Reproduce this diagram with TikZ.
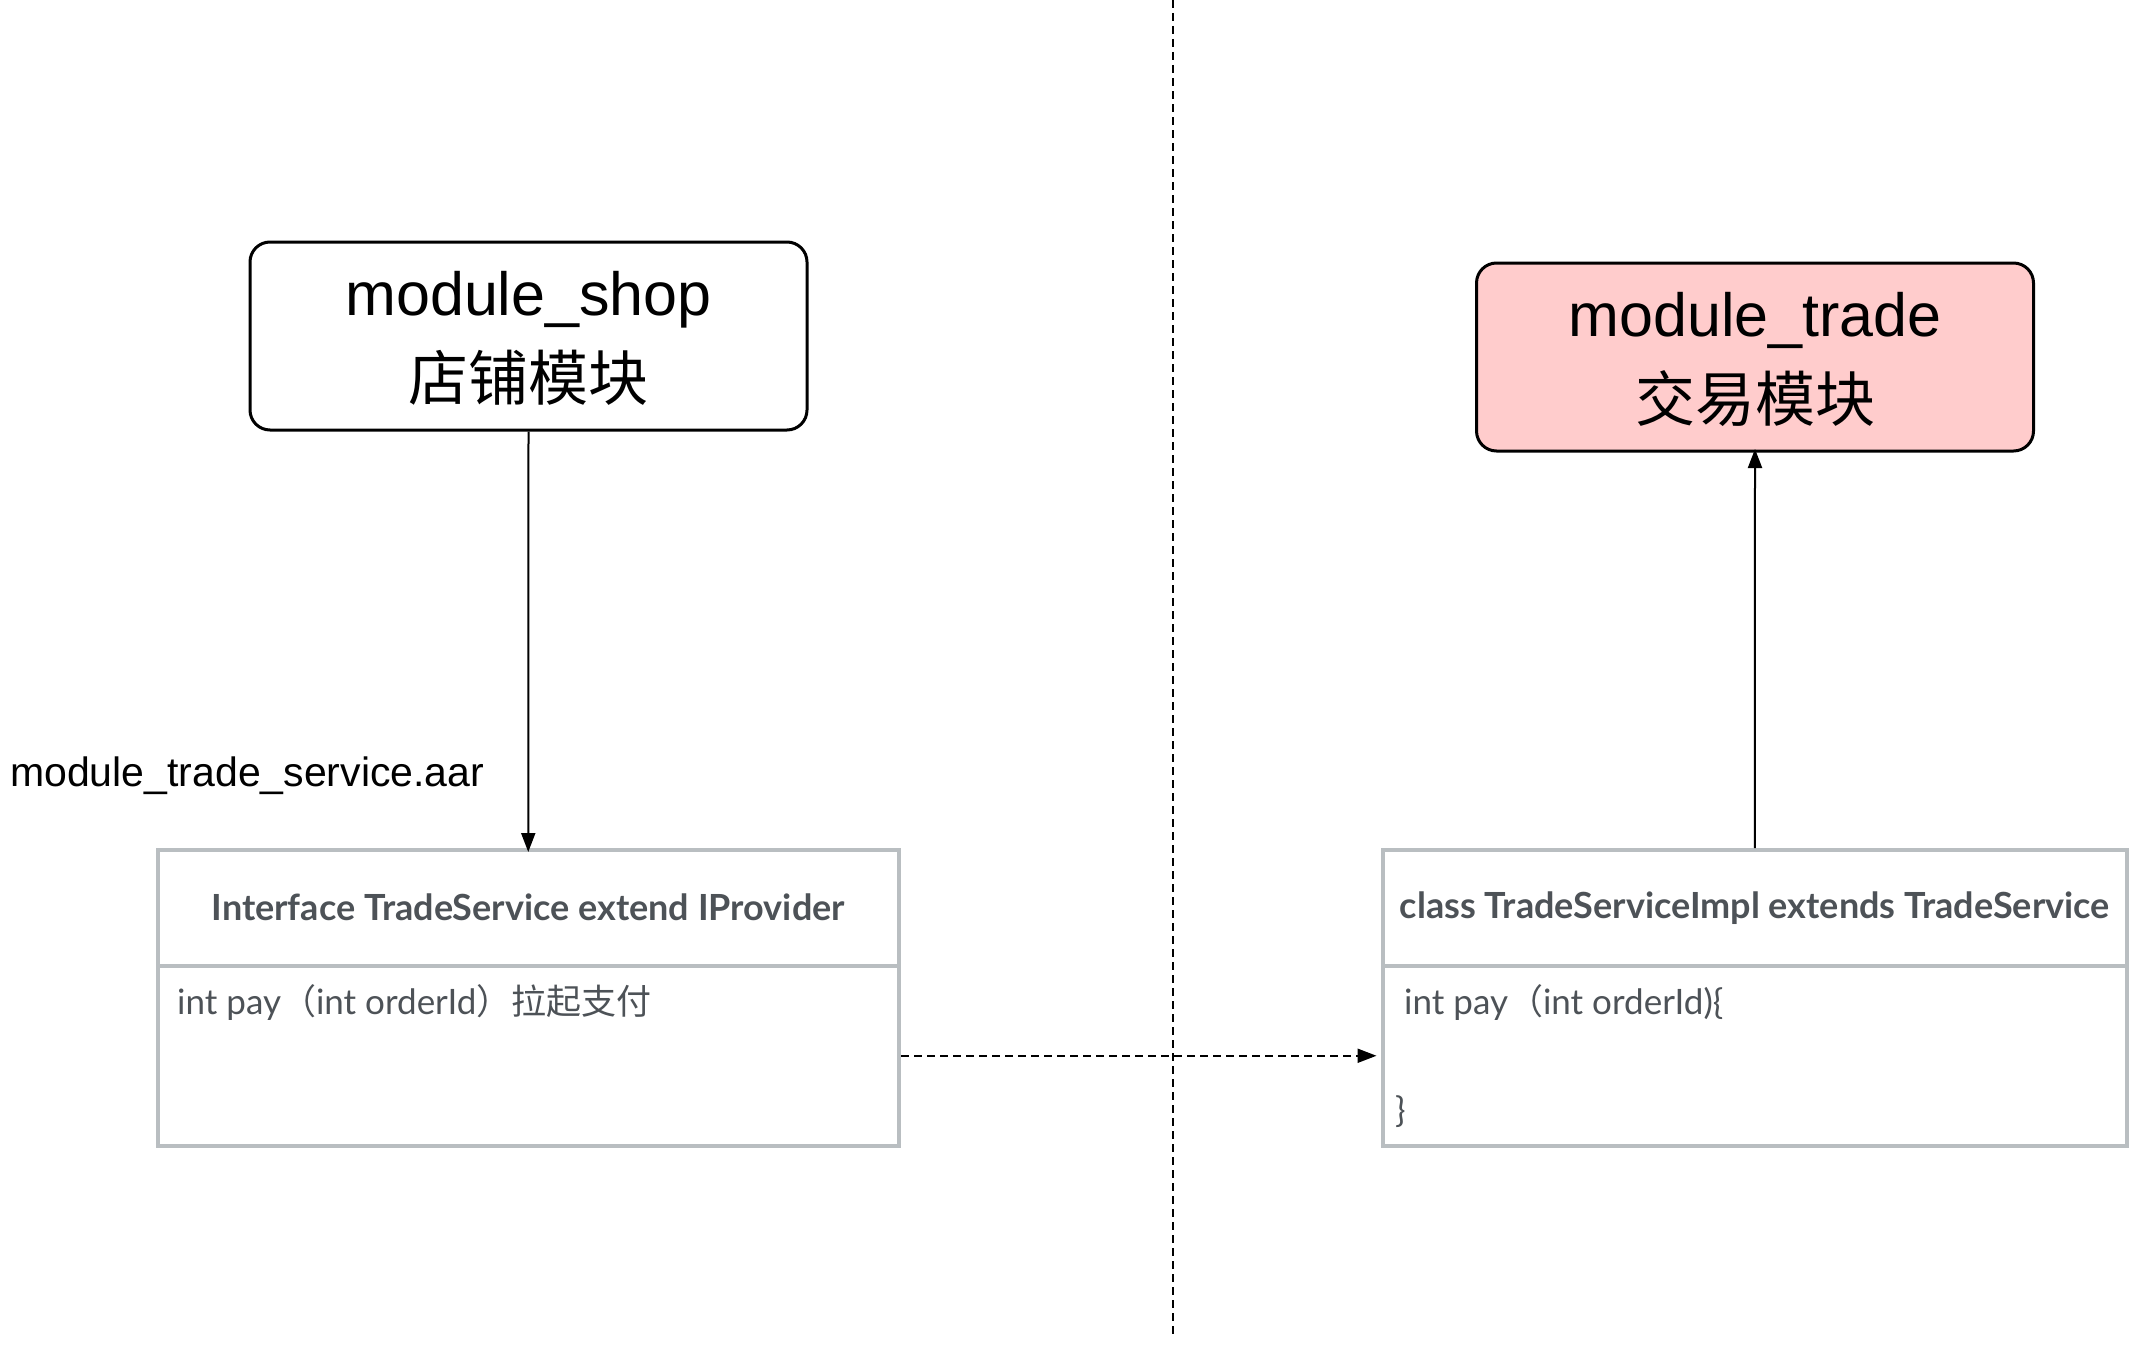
\documentclass[tikz,border=0pt]{standalone}
\usepackage{fontspec}
\setmainfont{Liberation Sans}
\newfontfamily\cjk{Noto Sans CJK SC}
\newfontfamily\lato{Lato}
\usetikzlibrary{arrows.meta}
\definecolor{umlgray}{HTML}{B9BEC1}
\definecolor{umltext}{HTML}{4D5257}
\definecolor{pinkfill}{HTML}{FFCCCC}
\tikzset{
  modbox/.style={draw=black, line width=3pt, rounded corners=20pt, align=center,
    minimum width=557pt, minimum height=188pt, inner sep=0pt,
    font=\fontsize{61}{85}\selectfont},
  umlpart/.style={draw=umlgray, line width=4pt, minimum width=741.5pt, inner sep=0pt},
  umltitle/.style={text=umltext, font=\lato\bfseries\fontsize{36}{42}\selectfont},
  umlbody/.style={text=umltext, font=\lato\fontsize{35}{42}\selectfont, anchor=base west, inner sep=0pt},
  conn/.style={line width=2pt, -{Triangle[length=19pt,width=14pt]}},
}
\begin{document}
\begin{tikzpicture}[x=1pt,y=-1pt]
\useasboundingbox (0,0) rectangle (2130,1354);
% vertical separator
\coordinate (septop) at (1173,0);
\coordinate (sepbot) at (1173,1334);
\draw[line width=2pt, dash pattern=on 8pt off 5pt] (septop) -- (sepbot);
% module boxes
\node[modbox] (shop) at (528.5,336)
  {\raisebox{-5pt}[\height][\depth]{\begin{tabular}{@{}c@{}}module\_shop\\{\cjk\fontsize{60}{85}\selectfont 店铺模块}\end{tabular}}};
\node[modbox, fill=pinkfill] (trade) at (1755,357)
  {\raisebox{-5pt}[\height][\depth]{\begin{tabular}{@{}c@{}}module\_trade\\{\cjk\fontsize{60}{85}\selectfont 交易模块}\end{tabular}}};
% label
\node[anchor=base west, inner sep=0pt, font=\fontsize{41}{49}\selectfont] (aar) at (10,786) {module\_trade\_service.aar};
% interface box
\node[umlpart, minimum height=115.5pt] (ifacehead) at (528.25,907.75) {};
\node[umlpart, minimum height=180.5pt] (ifacebody) at (528.25,1055.75) {};
\node[umltitle] (ifacetitle) at (ifacehead.center) {Interface TradeService extend IProvider};
\node[umlbody] (ifacemethod) at (177,1014) {int pay{\cjk（}int orderId{\cjk）拉起支付}};
% impl box
\node[umlpart, minimum width=744.5pt, minimum height=115.5pt] (implhead) at (1754.75,907.75) {};
\node[umlpart, minimum width=744.5pt, minimum height=180.5pt] (implbody) at (1754.75,1055.75) {};
\node[umltitle] (impltitle) at (implhead.center) {class TradeServiceImpl extends TradeService};
\node[umlbody] (implmethod) at (1404,1014) {int pay{\cjk（}int orderId)\{};
\node[umlbody] (implclose) at (1395,1122) {\}};
% connectors
\draw[conn] (shop.south) -- ([yshift=-4pt]ifacehead.north);
\draw[conn, dash pattern=on 8pt off 5pt] (ifacebody.east) -- ([xshift=-4pt]implbody.west);
\draw[conn] (implhead.north) -- ([yshift=3.5pt]trade.south);
\end{tikzpicture}
\end{document}
